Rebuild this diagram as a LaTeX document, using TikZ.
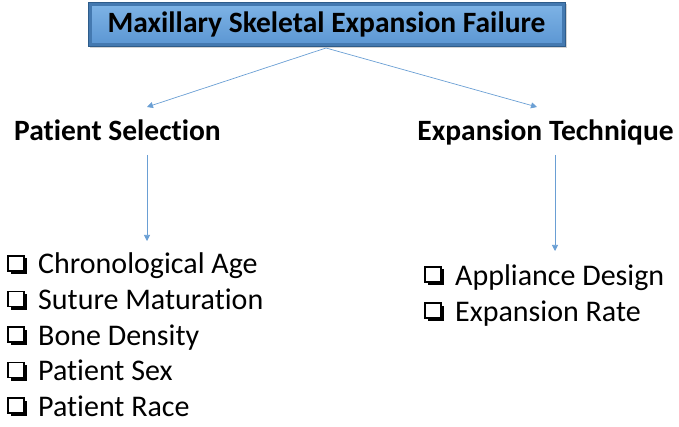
\documentclass[tikz,border=0pt]{standalone}
\usepackage{fontspec}
\setmainfont[Ligatures=NoCommon]{Carlito}
\usetikzlibrary{arrows.meta,shadows}
\definecolor{boxtop}{HTML}{7FB4E6}
\definecolor{boxbot}{HTML}{5A95D2}
\definecolor{boxedge}{HTML}{2E5C8A}
\definecolor{bevel}{HTML}{4479B0}
\definecolor{arrowc}{HTML}{6A9FD4}
\tikzset{
  titlebox/.style={draw=boxedge, line width=1pt, top color=boxtop, bottom color=boxbot,
    minimum width=477pt, minimum height=44pt, inner sep=0pt,
    drop shadow={shadow xshift=2pt, shadow yshift=-2pt, opacity=0.35}},
  titletext/.style={font=\fontsize{29.5}{32}\selectfont\bfseries, inner sep=0pt},
  headtext/.style={font=\fontsize{29.5}{32}\selectfont\bfseries, inner sep=0pt, anchor=base},
  itemtext/.style={font=\fontsize{30}{32}\selectfont, inner sep=0pt, anchor=base west},
  conn/.style={draw=arrowc, line width=0.7pt, -{Triangle[length=6pt,width=6pt]}},
}
\newcommand{\mycbox}[2]{%
  \fill[black] (#1+3,#2-5.5) rectangle (#1+19,#2+10);
  \filldraw[fill=white, draw=black, line width=1.4pt] (#1,#2-8) rectangle (#1+16,#2+7);
}
\begin{document}
\begin{tikzpicture}[x=1pt,y=-1pt]
\useasboundingbox (0,0) rectangle (679,427);
\node[titlebox] (t) at (326.5,24.5) {};
\draw[bevel, line width=3pt] ([xshift=2.5pt,yshift=-2.5pt]t.north west) rectangle ([xshift=-2.5pt,yshift=2.5pt]t.south east);
\node[titletext] (tt) at (326.5,24) {Maxillary Skeletal Expansion Failure};
\node[headtext] (ps) at (117.5,141) {Patient Selection};
\node[headtext] (et) at (545.5,141) {Expansion Technique};
\coordinate (ta) at (326,48);
\coordinate (pa) at (147,107);
\coordinate (ea) at (537,107);
\coordinate (ps1) at (147,155);
\coordinate (ps2) at (147,241);
\coordinate (et1) at (555,155);
\coordinate (et2) at (555,251);
\draw[conn] (ta) -- (pa);
\draw[conn] (ta) -- (ea);
\draw[conn] (ps1) -- (ps2);
\draw[conn] (et1) -- (et2);
% left list
\mycbox{8}{264}
\node[itemtext] (l1) at (38,274) {Chronological Age};
\mycbox{8}{299.5}
\node[itemtext] (l2) at (38,309.5) {Suture Maturation};
\mycbox{8}{335}
\node[itemtext] (l3) at (38,345) {Bone Density};
\mycbox{8}{370.5}
\node[itemtext] (l4) at (38,380.5) {Patient Sex};
\mycbox{8}{406}
\node[itemtext] (l5) at (38,416) {Patient Race};
% right list
\mycbox{425}{275}
\node[itemtext] (r1) at (455,285) {Appliance Design};
\mycbox{425}{311}
\node[itemtext] (r2) at (455,321) {Expansion Rate};
\end{tikzpicture}
\end{document}
